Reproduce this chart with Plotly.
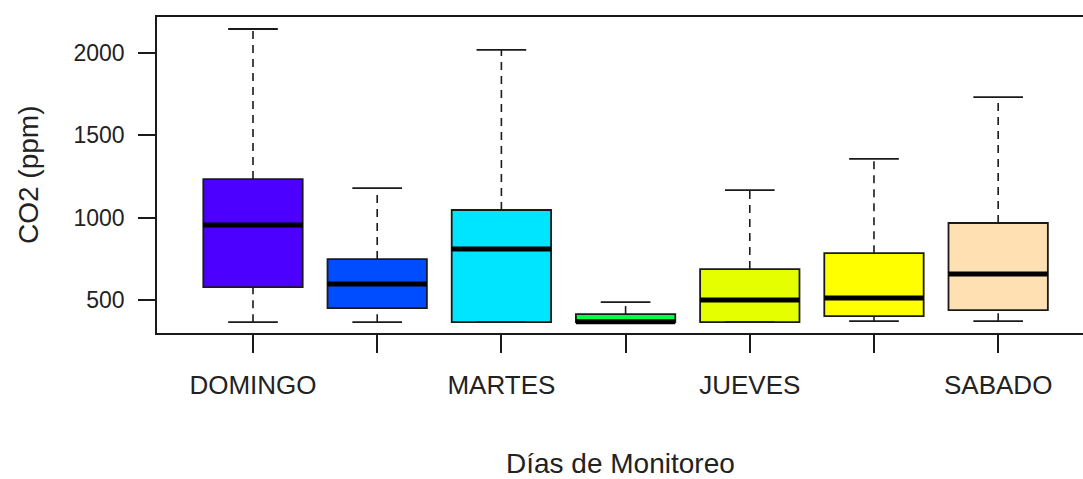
import plotly.graph_objects as go

days = ['DOMINGO', 'LUNES', 'MARTES', 'MIERCOLES', 'JUEVES', 'VIERNES', 'SABADO']
lower = [366, 366, 366, 366, 366, 372, 372]
q1 = [579, 451, 366, 366, 366, 403, 439]
median = [956, 597, 810, 368, 500, 512, 658]
q3 = [1235, 749, 1047, 415, 688, 785, 968]
upper = [2146, 1180, 2019, 488, 1168, 1357, 1733]
colors = ['#4C00FF', '#004DFF', '#00E5FF', '#00FF4D', '#E6FF00', '#FFFF00', '#FFE0B3']

pos = list(range(1, len(days) + 1))
box_w = 0.8
staple_w = 0.4
ink = '#1a1a1a'

fig = go.Figure()

# boxes (whiskers drawn separately so they can be dashed like R)
for i, d in enumerate(days):
    fig.add_trace(go.Box(
        x=[pos[i]], q1=[q1[i]], median=[median[i]], q3=[q3[i]],
        lowerfence=[q1[i]], upperfence=[q3[i]],
        width=box_w, whiskerwidth=0,
        fillcolor=colors[i],
        line=dict(color=ink, width=1.8),
        boxpoints=False, name=d, hoverinfo='skip'
    ))

# dashed whiskers
wx, wy = [], []
for i in range(len(days)):
    wx += [pos[i], pos[i], None, pos[i], pos[i], None]
    wy += [q3[i], upper[i], None, lower[i], q1[i], None]
fig.add_trace(go.Scatter(x=wx, y=wy, mode='lines',
                         line=dict(color=ink, width=1.6, dash='8px,6px'),
                         hoverinfo='skip'))

# staples
sx, sy = [], []
for i in range(len(days)):
    sx += [pos[i] - staple_w / 2, pos[i] + staple_w / 2, None,
           pos[i] - staple_w / 2, pos[i] + staple_w / 2, None]
    sy += [upper[i], upper[i], None, lower[i], lower[i], None]
fig.add_trace(go.Scatter(x=sx, y=sy, mode='lines',
                         line=dict(color=ink, width=1.8), hoverinfo='skip'))

# thick medians
mx, my = [], []
for i in range(len(days)):
    mx += [pos[i] - box_w / 2, pos[i] + box_w / 2, None]
    my += [median[i], median[i], None]
fig.add_trace(go.Scatter(x=mx, y=my, mode='lines',
                         line=dict(color='black', width=5), hoverinfo='skip'))

# R drops overlapping labels: only every other day is printed
tick_text = [d if i % 2 == 0 else '' for i, d in enumerate(days)]

fig.update_layout(
    width=1083, height=479,
    showlegend=False,
    plot_bgcolor='white',
    paper_bgcolor='white',
    font=dict(family='Liberation Sans, Arial, sans-serif', color='#222222'),
    margin=dict(l=157, r=0, t=17, b=146),
    xaxis=dict(
        range=[0.227, 7.683], automargin=False,
        tickmode='array', tickvals=pos, ticktext=tick_text,
        ticks='outside', ticklen=18, tickwidth=1.5, tickcolor=ink,
        tickfont=dict(size=26), ticklabelstandoff=10,
        showline=True, linecolor=ink, linewidth=1.5, mirror=True,
        showgrid=False, zeroline=False
    ),
    yaxis=dict(
        range=[300, 2219], automargin=False,
        tickmode='array', tickvals=[500, 1000, 1500, 2000],
        ticks='outside', ticklen=17, tickwidth=1.5, tickcolor=ink,
        tickfont=dict(size=23), ticklabelstandoff=9,
        showline=True, linecolor=ink, linewidth=1.5, mirror=False,
        showgrid=False, zeroline=False
    ),
    annotations=[
        dict(text='Días de Monitoreo', x=0.5, y=0, xref='paper', yref='paper',
             xanchor='center', yanchor='middle', yshift=-130, showarrow=False,
             font=dict(size=28)),
        dict(text='CO2 (ppm)', x=0, y=0.5, xref='paper', yref='paper',
             xanchor='center', yanchor='middle', xshift=-129, textangle=-90,
             showarrow=False, font=dict(size=28)),
    ]
)

fig.write_html("out.html", config={'displayModeBar': False},
               post_script="document.body.style.margin='0';document.body.style.overflow='hidden';")
